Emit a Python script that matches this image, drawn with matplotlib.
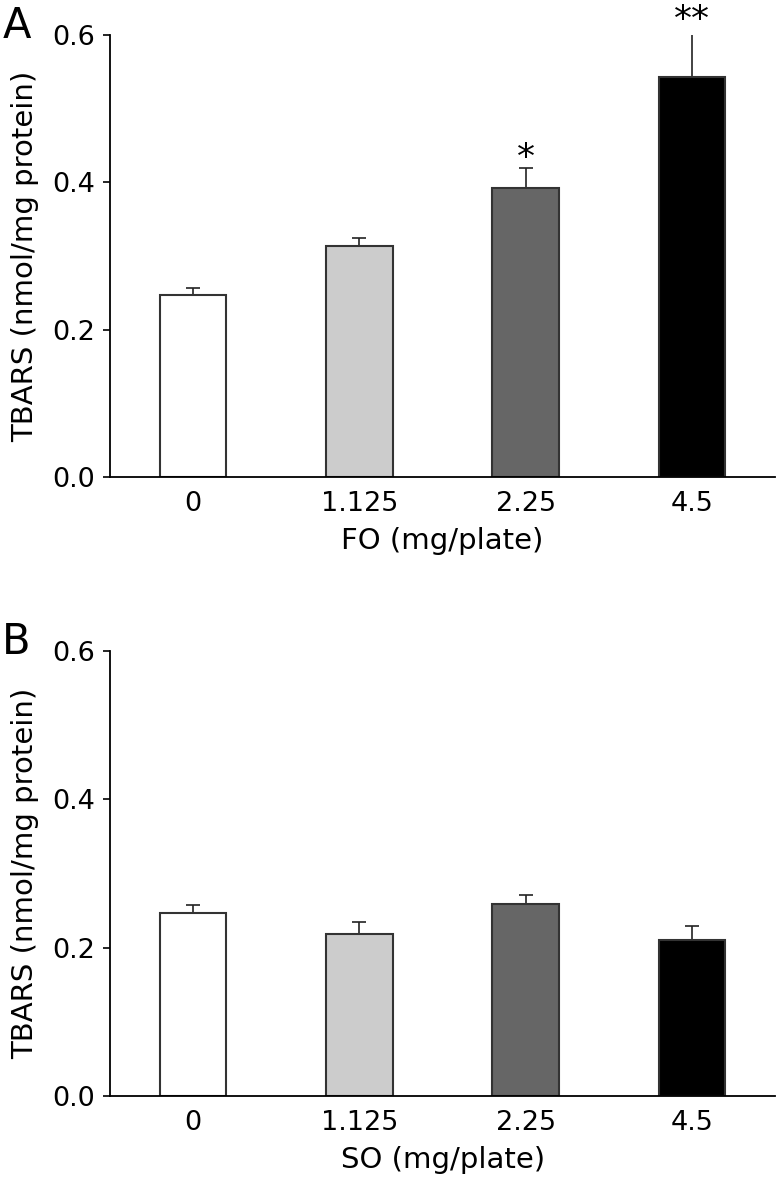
import numpy as np
import matplotlib
matplotlib.use("Agg")
import matplotlib.pyplot as plt

# doses (mg/plate) and TBARS values
doses = ["0", "1.125", "2.25", "4.5"]
fo_mean = [0.247, 0.314, 0.392, 0.543]
fo_err = [0.010, 0.010, 0.028, 0.064]
fo_sig = ["", "", "*", "**"]
so_mean = [0.247, 0.219, 0.259, 0.210]
so_err = [0.010, 0.015, 0.012, 0.019]
so_sig = ["", "", "", ""]
bar_colors = ["#ffffff", "#cccccc", "#666666", "#000000"]

plt.rcParams["font.family"] = "DejaVu Sans"
plt.rcParams["font.size"] = 19.5

fig = plt.figure(figsize=(7.77, 11.83), dpi=100)
ax_a = fig.add_axes([0.1416, 0.5968, 0.856, 0.3736])
ax_b = fig.add_axes([0.1416, 0.0735, 0.856, 0.3762])


def draw_panel(ax, means, errs, sig, xlabel, letter):
    x = np.arange(len(doses))
    ax.bar(x, means, width=0.4, color=bar_colors, edgecolor="#333333",
           linewidth=1.5, zorder=2)
    ax.errorbar(x, means, yerr=[np.zeros(len(errs)), errs], fmt="none",
                ecolor="#222222", elinewidth=1.2, capsize=5, capthick=1.2,
                zorder=1)
    for xi, m, e, s in zip(x, means, errs, sig):
        if s:
            ax.text(xi, m + e, s, ha="center", va="baseline", fontsize=26,
                    clip_on=False)
    ax.set_xlim(-0.5, 3.5)
    ax.set_ylim(0, 0.6)
    ax.set_yticks([0.0, 0.2, 0.4, 0.6])
    ax.set_yticklabels(["0.0", "0.2", "0.4", "0.6"])
    ax.set_xticks(x)
    ax.set_xticklabels(doses)
    ax.tick_params(axis="x", length=0, pad=10)
    ax.tick_params(axis="y", length=5, width=1.2, pad=6)
    ax.spines["top"].set_visible(False)
    ax.spines["right"].set_visible(False)
    ax.spines["left"].set_linewidth(1.3)
    ax.spines["bottom"].set_linewidth(1.3)
    ax.set_xlabel(xlabel, labelpad=7, fontsize=21)
    ax.set_ylabel("TBARS (nmol/mg protein)", labelpad=9, fontsize=21)
    # panel letter, a bit above the top tick
    top = ax.get_position().y1 + 9 / 1183
    fig.text(0.003, top, letter, fontsize=30, ha="left", va="center")


draw_panel(ax_a, fo_mean, fo_err, fo_sig, "FO (mg/plate)", "A")
draw_panel(ax_b, so_mean, so_err, so_sig, "SO (mg/plate)", "B")

fig.savefig("out.png", dpi=100)
